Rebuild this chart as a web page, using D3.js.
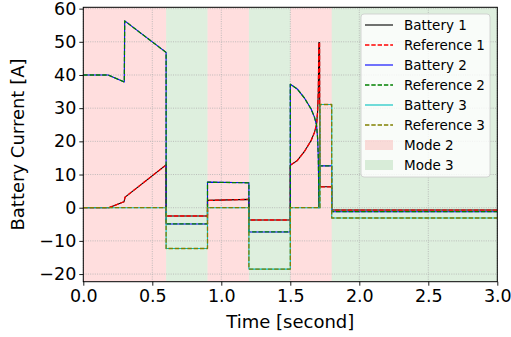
<!DOCTYPE html>
<html>
<head>
<meta charset="utf-8">
<script src="https://cdn.jsdelivr.net/npm/d3@7"></script>
<style>
  body { margin: 0; background: #fff; }
  svg { font-family: "DejaVu Sans", sans-serif; display: block; }
</style>
</head>
<body>
<svg></svg>
<script>
// Battery current samples, [time (s), current (A)]
const battery1 = [
  [0, 0], [0.185, 0], [0.295, 1.8], [0.303, 3.2], [0.6, 12.9], [0.6, -2.5],
  [0.9, -2.5], [0.9, 2.2], [1.2, 2.5], [1.2, -3.7], [1.5, -3.7], [1.5, 12.8],
  [1.55, 14.2], [1.6, 16.8], [1.65, 20.2], [1.675, 22.7], [1.69, 25], [1.698, 29],
  [1.703, 35], [1.707, 49.8], [1.712, 49.8], [1.714, 6.3], [1.8, 6.3], [1.8, -0.7], [3.0, -0.7]
];
const battery2 = [
  [0, 40], [0.18, 40], [0.297, 37.9], [0.3, 56.3], [0.6, 46.8], [0.6, -4.9],
  [0.9, -4.9], [0.9, 7.7], [1.2, 7.5], [1.2, -7.3], [1.5, -7.3], [1.5, 37.2],
  [1.55, 35.8], [1.6, 33.2], [1.65, 29.8], [1.675, 27.3], [1.69, 25], [1.698, 21],
  [1.703, 15], [1.708, 0], [1.714, 12.6], [1.8, 12.6], [1.8, -1.2], [3.0, -1.2]
];
const battery3 = [
  [0, 0], [0.6, 0], [0.6, -12.3], [0.9, -12.3], [0.9, 0], [1.2, 0], [1.2, -18.5],
  [1.5, -18.5], [1.5, 0], [1.715, 0], [1.715, 31.1], [1.8, 31.1], [1.8, -3.1], [3.0, -3.1]
];
// references sit right on top of the measured currents
const reference1 = battery1;
const reference2 = battery2;
const reference3 = battery3;

// operating mode intervals
const mode2Spans = [[0, 0.6], [0.9, 1.2], [1.5, 1.8]];
const mode3Spans = [[0.6, 0.9], [1.2, 1.5], [1.8, 3.0]];

const xTicks = [0, 0.5, 1.0, 1.5, 2.0, 2.5, 3.0];
const yTicks = [-20, -10, 0, 10, 20, 30, 40, 50, 60];

const series = [
  {name: "Battery 1",   data: battery1,   color: "#000000", dash: null},
  {name: "Reference 1", data: reference1, color: "#ff0000", dash: "4.4,1.9"},
  {name: "Battery 2",   data: battery2,   color: "#0000ff", dash: null},
  {name: "Reference 2", data: reference2, color: "#008000", dash: "4.4,1.9"},
  {name: "Battery 3",   data: battery3,   color: "#00bfbf", dash: null},
  {name: "Reference 3", data: reference3, color: "#808000", dash: "4.4,1.9"}
];

const W = 511, H = 337;
const margin = {top: 7.3, right: 13.7, bottom: 55.3, left: 83.3},
      width = W - margin.left - margin.right,
      height = H - margin.top - margin.bottom;

const svg = d3.select("svg")
              .attr("width", W)
              .attr("height", H);

const g = svg.append("g")
             .attr("transform", `translate(${margin.left},${margin.top})`);

const x = d3.scaleLinear().domain([0, 3]).range([0, width]);
const y = d3.scaleLinear().domain([-22.3, 60.4]).range([height, 0]);

// mode backgrounds
const spans = g.append("g");
spans.selectAll(".m2")
     .data(mode2Spans)
     .enter().append("rect")
     .attr("x", d => x(d[0]))
     .attr("width", d => x(d[1]) - x(d[0]))
     .attr("y", 0).attr("height", height)
     .attr("fill", "#ff0000").attr("fill-opacity", 0.13);
spans.selectAll(".m3")
     .data(mode3Spans)
     .enter().append("rect")
     .attr("x", d => x(d[0]))
     .attr("width", d => x(d[1]) - x(d[0]))
     .attr("y", 0).attr("height", height)
     .attr("fill", "#008000").attr("fill-opacity", 0.13);

// dotted grid
const grid = g.append("g")
              .attr("stroke", "#b0b0b0")
              .attr("stroke-width", 0.8)
              .attr("stroke-dasharray", "1,1.3");
grid.selectAll(".gx").data(xTicks).enter().append("line")
    .attr("x1", d => x(d)).attr("x2", d => x(d))
    .attr("y1", 0).attr("y2", height);
grid.selectAll(".gy").data(yTicks).enter().append("line")
    .attr("x1", 0).attr("x2", width)
    .attr("y1", d => y(d)).attr("y2", d => y(d));

// current traces
const line = d3.line().x(d => x(d[0])).y(d => y(d[1]));
const clip = g.append("clipPath").attr("id", "clip")
              .append("rect").attr("width", width).attr("height", height);
g.append("g").attr("clip-path", "url(#clip)")
 .selectAll("path")
 .data(series)
 .enter().append("path")
 .attr("d", d => line(d.data))
 .attr("fill", "none")
 .attr("stroke", d => d.color)
 .attr("stroke-width", d => d.dash ? 1.3 : 1.1)
 .attr("stroke-dasharray", d => d.dash)
 .attr("stroke-linejoin", "round");

// axes
const xAxis = g.append("g")
               .attr("transform", `translate(0,${height})`)
               .call(d3.axisBottom(x).tickValues(xTicks).tickFormat(d3.format(".1f")).tickSizeOuter(0).tickSize(4).tickPadding(4));
const yAxis = g.append("g")
               .call(d3.axisLeft(y).tickValues(yTicks).tickSizeOuter(0).tickSize(4).tickPadding(3));
[xAxis, yAxis].forEach(a => {
  a.select(".domain").remove();
  a.selectAll("text").attr("font-size", "17.5px").attr("fill", "#000")
   .attr("font-family", "DejaVu Sans");
  a.selectAll("line").attr("stroke", "#000").attr("stroke-width", 0.9);
});

// frame
g.append("rect")
 .attr("width", width).attr("height", height)
 .attr("fill", "none").attr("stroke", "#000").attr("stroke-width", 1);

// axis labels
svg.append("text")
   .attr("x", margin.left + width / 2)
   .attr("y", 328)
   .attr("text-anchor", "middle")
   .attr("font-size", "18px")
   .text("Time [second]");
svg.append("text")
   .attr("transform", `translate(24,${margin.top + height / 2}) rotate(-90)`)
   .attr("text-anchor", "middle")
   .attr("font-size", "18px")
   .text("Battery Current [A]");

// legend
const legend = svg.append("g").attr("transform", "translate(361,14)");
legend.append("rect")
      .attr("width", 129).attr("height", 163)
      .attr("rx", 3)
      .attr("fill", "#fff").attr("fill-opacity", 0.8)
      .attr("stroke", "#cccccc").attr("stroke-width", 0.8);

const legendItems = series.map(s => ({name: s.name, color: s.color, dash: s.dash, patch: false}))
  .concat([
    {name: "Mode 2", color: "#ff0000", patch: true},
    {name: "Mode 3", color: "#008000", patch: true}
  ]);

const item = legend.selectAll(".item")
                   .data(legendItems)
                   .enter().append("g")
                   .attr("transform", (d, i) => `translate(0,${11 + i * 20})`);
item.filter(d => !d.patch).append("line")
    .attr("x1", 4).attr("x2", 32)
    .attr("stroke", d => d.color)
    .attr("stroke-width", d => d.dash ? 1.3 : 1.1)
    .attr("stroke-dasharray", d => d.dash);
item.filter(d => d.patch).append("rect")
    .attr("x", 4).attr("y", -5).attr("width", 28).attr("height", 10)
    .attr("fill", d => d.color).attr("fill-opacity", 0.13);
item.append("text")
    .attr("x", 43).attr("y", 5)
    .attr("font-size", "13.5px")
    .text(d => d.name);
</script>
</body>
</html>
